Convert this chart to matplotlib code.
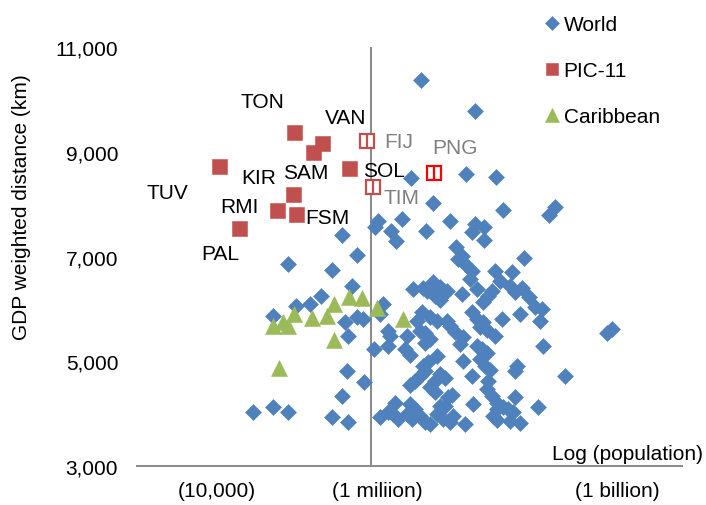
import matplotlib
matplotlib.use("Agg")
import matplotlib.pyplot as plt
from matplotlib.transforms import ScaledTranslation

plt.rcParams['font.family'] = ['Liberation Sans', 'DejaVu Sans']

# World: log10(population), GDP weighted distance (km)
world_logpop = [6.63, 7.30, 6.50, 7.19, 7.56, 6.78, 7.65, 8.23, 8.30, 6.09,
                6.05, 6.39, 6.25, 6.31, 6.69, 6.99, 7.30, 7.26, 7.41, 7.41,
                7.06, 7.91, 5.64, 5.83, 7.14, 7.09, 7.18, 7.55, 7.76, 7.61,
                7.51, 7.74, 7.89, 7.80, 7.98, 7.26, 7.24, 7.33, 7.40, 7.46,
                8.05, 8.14, 8.11, 5.76, 6.53, 6.65, 6.78, 6.86, 6.95, 6.80,
                6.86, 7.14, 6.70, 6.15, 5.83, 5.90, 5.68, 6.11, 6.64, 6.58,
                6.74, 6.83, 6.95, 6.99, 7.05, 7.15, 6.61, 6.68, 6.74, 6.68,
                7.26, 7.33, 7.40, 7.36, 7.45, 7.64, 7.86, 7.55, 5.71, 6.21,
                6.24, 6.21, 6.04, 6.45, 6.43, 6.49, 7.33, 7.39, 7.45, 7.36,
                7.43, 7.49, 7.15, 8.15, 9.01, 8.95, 6.83, 6.71, 6.65, 6.68,
                6.61, 6.55, 6.49, 6.86, 6.93, 6.80, 6.74, 6.80, 7.26, 7.83,
                7.80, 5.70, 5.91, 5.64, 7.46, 7.45, 7.51, 7.58, 7.65, 7.71,
                7.58, 7.80, 8.43, 8.09, 7.28, 6.30, 6.21, 6.11, 6.49, 6.55,
                6.61, 6.68, 6.74, 6.51, 6.45, 6.86, 6.96, 7.01, 6.83, 6.90,
                6.99, 7.03, 7.18, 7.53, 7.58, 7.74, 7.86, 5.71, 7.78, 6.28,
                6.34, 4.96, 5.51, 5.38, 5.24, 5.06, 4.78, 4.53, 4.78, 4.96,
                5.51, 7.11, 6.93]
world_dist = [10370, 9780, 8500, 8580, 8520, 8020, 7890, 7790, 7950, 7680,
              7560, 7720, 7490, 7300, 7490, 7680, 7620, 7470, 7560, 7320,
              7180, 6970, 7410, 7030, 7010, 6950, 6860, 6720, 6700, 6530,
              6340, 6440, 6400, 6320, 6230, 6720, 6570, 6380, 6130, 6250,
              6040, 6000, 5770, 6440, 6380, 6400, 6510, 6420, 6340, 6250,
              6170, 6280, 6340, 6090, 5840, 5810, 5750, 5900, 5940, 5770,
              5840, 5770, 5770, 5670, 5560, 5460, 5580, 5540, 5420, 5350,
              5940, 5810, 5750, 5650, 5600, 5810, 5900, 5480, 5480, 5580,
              5480, 5290, 5230, 5480, 5230, 5120, 5290, 5230, 5160, 5040,
              4910, 4830, 5000, 5290, 5620, 5540, 5100, 4990, 4910, 4810,
              4720, 4620, 4550, 4760, 4680, 4620, 4510, 4410, 4720, 4910,
              4810, 4810, 4600, 4340, 4620, 4470, 4340, 4200, 4130, 4090,
              4090, 4320, 4720, 4130, 4180, 4200, 4030, 3940, 4180, 4090,
              3950, 3840, 3800, 3900, 3990, 4150, 4320, 4360, 3990, 3900,
              3840, 3950, 3800, 3950, 3880, 3860, 3820, 3840, 4030, 3990,
              3900, 6860, 6740, 6250, 6090, 6050, 5860, 4030, 4130, 4030,
              3940, 5330, 4150]

# PIC-11 (filled markers)
pic_logpop = [5.04, 5.39, 5.28, 4.10, 5.73, 5.03, 4.83, 5.06, 4.35]
pic_dist = [9380, 9170, 9000, 8730, 8690, 8190, 7890, 7810, 7540]

# PIC members drawn with hollow markers: FIJ, TIM, PNG
pic_hollow_logpop = [5.95, 6.03, 6.79]
pic_hollow_dist = [9210, 8330, 8590]

# Caribbean
carib_logpop = [4.78, 4.90, 4.96, 5.04, 5.26, 5.45, 5.54, 5.73, 5.89, 6.08,
                6.40, 5.54, 4.85]
carib_dist = [5670, 5750, 5670, 5900, 5830, 5860, 6090, 6230, 6210, 6020,
              5810, 5410, 4870]

# country labels (text anchor positions)
lab_black = ['TON', 'VAN', 'SAM', 'KIR', 'TUV', 'RMI', 'FSM', 'PAL', 'SOL']
lab_black_x = [4.64, 5.68, 5.19, 4.60, 3.46, 4.36, 5.46, 4.11, 6.16]
lab_black_y = [9950, 9660, 8610, 8500, 8230, 7960, 7750, 7050, 8650]
lab_grey = ['FIJ', 'PNG', 'TIM']
lab_grey_x = [6.35, 7.05, 6.38]
lab_grey_y = [9190, 9090, 8120]

x_ticks = [4, 6, 9]
x_ticklabels = ['(10,000)', '(1 miliion)', '(1 billion)']
y_ticks = [3000, 5000, 7000, 9000, 11000]

BLUE = '#4F81BD'
RED = '#C0504D'
GREEN = '#9BBB59'
AXIS = '#8C8C8C'
FS = 15

fig = plt.figure(figsize=(7.06, 5.06), dpi=100)
ax = fig.add_axes([137 / 706, 39 / 506, 545 / 706, 419 / 506])

ax.axvline(6, color=AXIS, lw=1.5, zorder=1)

ax.plot(world_logpop, world_dist, 'D', color=BLUE, ms=8.3, mew=0.4,
        ls='none', label='World', zorder=3)
ax.plot(pic_logpop, pic_dist, 's', color=RED, ms=10.8, mew=0.4,
        ls='none', label='PIC-11', zorder=4)
edge_cols = [RED, RED, '#FF0000']
for x, y, c in zip(pic_hollow_logpop, pic_hollow_dist, edge_cols):
    ax.plot(x, y, 's', mfc='white', mec=c, mew=1.6, ms=9.8, zorder=4)
    ax.plot(x, y, '|', color=c, mew=1.6, ms=9.8, zorder=5)
ax.plot(carib_logpop, carib_dist, '^', color=GREEN, ms=12, mew=0.4,
        ls='none', label='Caribbean', zorder=5)

for t, x, y in zip(lab_black, lab_black_x, lab_black_y):
    ax.text(x, y, t, fontsize=FS, color='black', ha='center', va='center')
for t, x, y in zip(lab_grey, lab_grey_x, lab_grey_y):
    ax.text(x, y, t, fontsize=FS, color='#808080', ha='center', va='center')

ax.set_xlim(3.075, 9.8875)
ax.set_ylim(3000, 11000)
ax.set_yticks(y_ticks)
ax.set_yticklabels([f'{v:,}' for v in y_ticks])
ax.set_xticks(x_ticks)
ax.set_xticklabels(x_ticklabels)
ax.tick_params(axis='y', length=0, pad=13.5, labelsize=FS)
ax.tick_params(axis='x', length=0, pad=11, labelsize=FS)
shift = ScaledTranslation(6 / 100, 0, fig.dpi_scale_trans)
for lbl in ax.get_xticklabels():
    lbl.set_transform(lbl.get_transform() + shift)

for s in ['left', 'right', 'top']:
    ax.spines[s].set_visible(False)
ax.spines['bottom'].set_color(AXIS)
ax.spines['bottom'].set_linewidth(1.5)

ax.text(1.0385, 0.031, 'Log (population)', transform=ax.transAxes,
        fontsize=FS, ha='right', va='center')
fig.text(22 / 706, 1 - 207 / 506, 'GDP weighted distance (km)', fontsize=FS,
         rotation=90, ha='center', va='center')

fig.legend(loc='upper left', bbox_to_anchor=(546 / 706, 1 - 16 / 506),
           frameon=False, fontsize=FS, handlelength=0.6, handletextpad=0.25,
           labelspacing=1.3, borderpad=0, borderaxespad=0, numpoints=1,
           markerscale=0.8)

fig.savefig('out.png', dpi=100)
